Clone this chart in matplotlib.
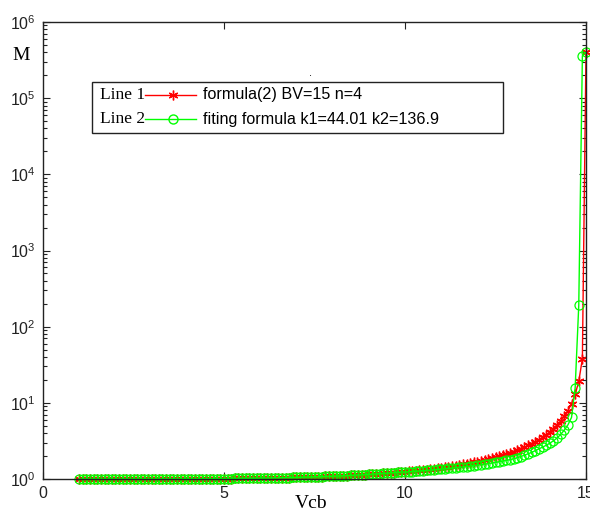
import numpy as np
import matplotlib
matplotlib.use('Agg')
import matplotlib.pyplot as plt
from matplotlib.lines import Line2D
from matplotlib.patches import Rectangle
from matplotlib.ticker import LogLocator, NullFormatter

plt.rcParams['font.family'] = ['Liberation Sans', 'DejaVu Sans']
plt.rcParams['mathtext.default'] = 'regular'

# Vcb grid, 1 to 15 in steps of 0.1
vcb = np.arange(10, 151) / 10.0

# Line 1: formula(2) BV=15 n=4
m_formula = [
    1.000, 1.000, 1.000, 1.000, 1.000, 1.000, 1.000, 1.000, 1.000, 1.000,
    1.000, 1.000, 1.000, 1.001, 1.001, 1.001, 1.001, 1.001, 1.001, 1.001,
    1.002, 1.002, 1.002, 1.002, 1.003, 1.003, 1.003, 1.004, 1.004, 1.005,
    1.005, 1.006, 1.006, 1.007, 1.007, 1.008, 1.009, 1.010, 1.011, 1.012,
    1.013, 1.014, 1.015, 1.016, 1.017, 1.018, 1.020, 1.021, 1.023, 1.025,
    1.026, 1.028, 1.030, 1.032, 1.034, 1.037, 1.039, 1.041, 1.044, 1.047,
    1.050, 1.053, 1.056, 1.059, 1.063, 1.067, 1.071, 1.075, 1.079, 1.083,
    1.088, 1.093, 1.098, 1.103, 1.109, 1.115, 1.121, 1.128, 1.134, 1.141,
    1.149, 1.157, 1.165, 1.173, 1.182, 1.192, 1.202, 1.212, 1.223, 1.234,
    1.246, 1.259, 1.272, 1.286, 1.301, 1.316, 1.332, 1.349, 1.368, 1.387,
    1.407, 1.428, 1.451, 1.475, 1.501, 1.528, 1.557, 1.588, 1.621, 1.656,
    1.694, 1.734, 1.778, 1.825, 1.876, 1.931, 1.992, 2.057, 2.129, 2.208,
    2.294, 2.391, 2.498, 2.618, 2.754, 2.908, 3.084, 3.288, 3.526, 3.808,
    4.146, 4.561, 5.080, 5.747, 6.638, 7.886, 9.759, 12.88, 19.13, 37.88,
    4.0e5,
]

# Line 2: fitting formula k1=44.01 k2=136.9 (same as line 1 below Vcb=10)
m_fit = m_formula[:90] + [
    1.234, 1.243, 1.253, 1.263, 1.274, 1.284, 1.295, 1.307, 1.320, 1.333,
    1.346, 1.360, 1.374, 1.390, 1.406, 1.422, 1.440, 1.459, 1.478, 1.499,
    1.521, 1.543, 1.568, 1.594, 1.622, 1.652, 1.684, 1.719, 1.756, 1.797,
    1.841, 1.904, 1.974, 2.052, 2.140, 2.240, 2.355, 2.487, 2.617, 2.769,
    2.951, 3.172, 3.448, 3.848, 4.383, 5.132, 6.431, 15.6, 190.0, 3.6e5,
    4.0e5,
]

asterisk = (6, 2, 0)

fig = plt.figure(figsize=(5.9, 5.15), dpi=100)
ax = fig.add_axes([43/590, 1-479/515, 543/590, 457/515])

ax.plot(vcb, m_formula, color='#ff0000', marker=asterisk, markersize=7,
        markeredgewidth=1, linewidth=1, clip_on=False)
ax.plot(vcb, m_fit, color='#00ff00', marker='o', markersize=6.5,
        markerfacecolor='none', markeredgewidth=0.9, linewidth=1, clip_on=False)

ax.set_yscale('log')
ax.set_xlim(0, 15)
ax.set_ylim(1, 1e6)
ax.set_xticks([0, 5, 10, 15])
ax.yaxis.set_major_locator(LogLocator(base=10, numticks=10))
ax.yaxis.set_minor_locator(LogLocator(base=10, subs=np.arange(2, 10), numticks=20))
ax.yaxis.set_minor_formatter(NullFormatter())
ax.tick_params(which='both', direction='in', top=True, right=True,
               labelsize=11.5, colors='#222222', pad=5)
ax.tick_params(which='major', length=5, width=0.8)
ax.tick_params(which='minor', length=3, width=0.8)
for s in ax.spines.values():
    s.set_linewidth(1.0)
    s.set_color('#222222')

fig.text(311/590, 1-504/515, 'Vcb', family='Liberation Serif', fontsize=14,
         ha='center', va='center')
fig.text(21/590, 1-55/515, 'M', family='Liberation Serif', fontsize=14,
         ha='center', va='center')
fig.text(310/590, 1-73/515, '.', fontsize=8, ha='center', va='center')

# legend box drawn by hand: "Line n" label, sample, description
tr = ax.transAxes
ax.add_patch(Rectangle((0.0902, 0.757), 0.757, 0.1117, transform=tr,
                       facecolor='white', edgecolor='#222222', linewidth=1,
                       zorder=5))
rows = [(0.8403, 'Line 1', '#ff0000', asterisk, 'formula(2) BV=15 n=4'),
        (0.7877, 'Line 2', '#00ff00', 'o', 'fiting formula k1=44.01 k2=136.9')]
for y, name, col, mk, desc in rows:
    ax.text(0.105, y, name, transform=tr, family='Liberation Serif',
            fontsize=12.5, va='center', zorder=6)
    ax.add_line(Line2D([0.1878, 0.2818], [y, y], transform=tr, color=col,
                       linewidth=1, zorder=6))
    ax.add_line(Line2D([0.2394], [y], transform=tr, color=col, marker=mk,
                       markersize=7 if mk == asterisk else 6.5,
                       markerfacecolor='none', markeredgewidth=1, zorder=6))
    ax.text(0.2947, y, desc, transform=tr, fontsize=11.6, va='center', zorder=6)

fig.savefig('out.png', dpi=100)
